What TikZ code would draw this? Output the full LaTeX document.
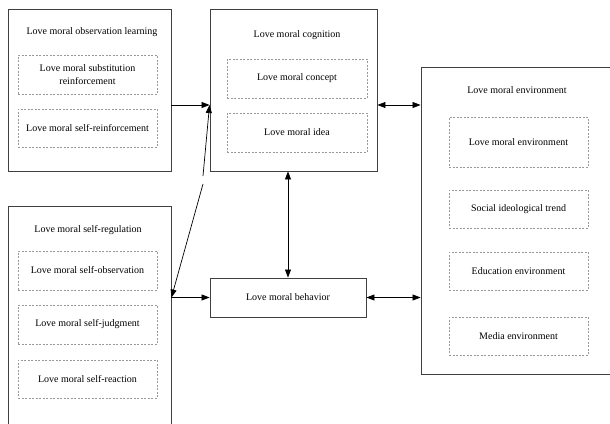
\documentclass[tikz,border=0pt]{standalone}
\usepackage{fontspec}
\setmainfont{Liberation Serif}
\usetikzlibrary{arrows.meta}
\begin{document}
\begin{tikzpicture}[x=1pt,y=-1pt,
  outer/.style={draw=black!75,line width=0.9pt,inner sep=0pt,fill=none},
  inner/.style={draw=black!40,dashed,dash pattern=on 2pt off 1.5pt,line width=0.5pt,inner sep=0pt,align=center,font=\fontsize{10}{13}\selectfont},
  ttl/.style={inner sep=0pt,font=\fontsize{10}{12}\selectfont},
  arr/.style={-{Triangle[length=8pt,width=6pt]},line width=0.7pt,black},
  barr/.style={{Triangle[length=8pt,width=6pt]}-{Triangle[length=8pt,width=6pt]},line width=0.7pt,black}]
\useasboundingbox (0,0) rectangle (610,423);
\clip (0,0) rectangle (610,423);
% outer boxes
\node[outer,minimum width=163pt,minimum height=162pt] (A) at (89.5,90) {};
\node[outer,minimum width=167pt,minimum height=162pt] (B) at (293.5,90) {};
\node[outer,minimum width=163pt,minimum height=230pt] (C) at (89.5,321) {};
\node[outer,minimum width=194pt,minimum height=307pt] (E) at (518,220.5) {};
\node[outer,minimum width=156pt,minimum height=39pt,font=\fontsize{10}{12}\selectfont] (beh) at (288,297.5) {Love moral behavior};
% titles
\node[ttl] (At) at (92,32) {Love moral observation learning};
\node[ttl] (Bt) at (297,35) {Love moral cognition};
\node[ttl] (Ct) at (88,230) {Love moral self-regulation};
\node[ttl] (Et) at (517,90) {Love moral environment};
% inner boxes A
\node[inner,minimum width=139pt,minimum height=39pt] (A1) at (87.5,74.5) {Love moral substitution\\reinforcement};
\node[inner,minimum width=139pt,minimum height=38pt] (A2) at (87.5,128) {Love moral self-reinforcement};
% inner boxes B
\node[inner,minimum width=140pt,minimum height=39pt] (B1) at (297,78.5) {Love moral concept};
\node[inner,minimum width=140pt,minimum height=39pt] (B2) at (297,132.5) {Love moral idea};
% inner boxes C
\node[inner,minimum width=139pt,minimum height=39pt] (C1) at (87.5,270.5) {Love moral self-observation};
\node[inner,minimum width=139pt,minimum height=39pt] (C2) at (87.5,324.5) {Love moral self-judgment};
\node[inner,minimum width=139pt,minimum height=38pt] (C3) at (87.5,379) {Love moral self-reaction};
% inner boxes E
\node[inner,minimum width=139pt,minimum height=50pt] (E1) at (518.5,142) {Love moral environment};
\node[inner,minimum width=139pt,minimum height=38pt] (E2) at (518.5,209) {Social ideological trend};
\node[inner,minimum width=139pt,minimum height=38pt] (E3) at (518.5,271) {Education environment};
\node[inner,minimum width=139pt,minimum height=38pt] (E4) at (518.5,336) {Media environment};
% connectors
\coordinate (r1) at (0,105);
\coordinate (m1) at (203,176);
\coordinate (m2) at (203,184);
\draw[arr] (A.east |- r1) -- (B.west |- r1);
\draw[barr] (B.east |- r1) -- (E.west |- r1);
\draw[barr] (B.south -| beh.north) -- (beh.north);
\draw[arr] (C.east |- beh.west) -- (beh.west);
\draw[barr] (beh.east) -- (E.west |- beh.east);
\draw[arr] (m1) -- (B.west |- r1);
\draw[arr] (m2) -- (C.east |- beh.west);
\end{tikzpicture}
\end{document}
